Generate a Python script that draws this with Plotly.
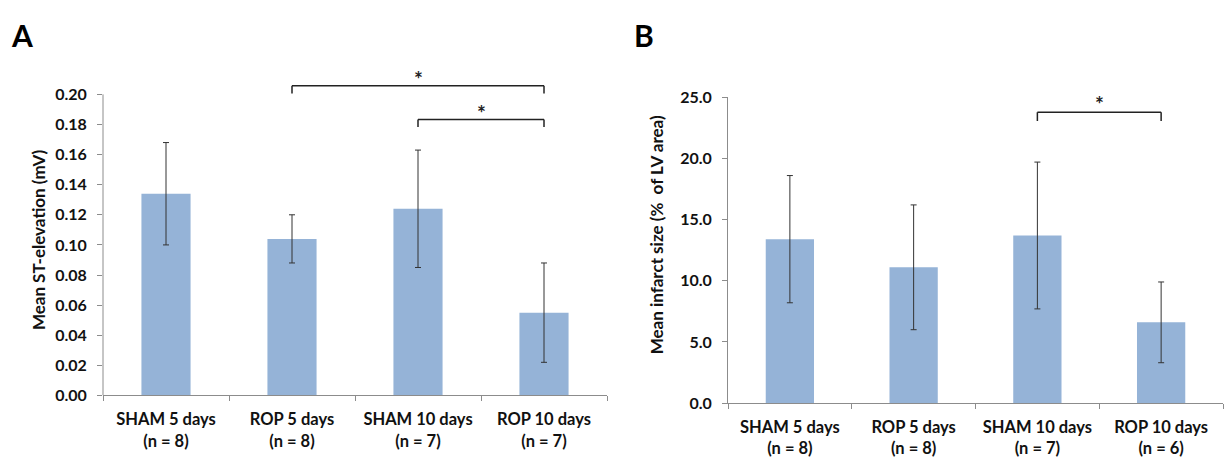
import plotly.graph_objects as go

# ---------------- data ----------------
cats_A = ["SHAM 5 days<br>(n = 8)", "ROP 5 days<br>(n = 8)",
          "SHAM 10 days<br>(n = 7)", "ROP 10 days<br>(n = 7)"]
st_mean = [0.134, 0.104, 0.124, 0.055]
st_err = [0.034, 0.016, 0.039, 0.033]
ticks_A = [0.00, 0.02, 0.04, 0.06, 0.08, 0.10, 0.12, 0.14, 0.16, 0.18, 0.20]

cats_B = ["SHAM 5 days<br>(n = 8)", "ROP 5 days<br>(n = 8)",
          "SHAM 10 days<br>(n = 7)", "ROP 10 days<br>(n = 6)"]
inf_mean = [13.4, 11.1, 13.7, 6.6]
inf_err = [5.2, 5.1, 6.0, 3.3]
ticks_B = [0.0, 5.0, 10.0, 15.0, 20.0, 25.0]

# significance brackets: (from category index, to category index)
sig_A = [(1, 3), (2, 3)]
sig_B = [(2, 3)]

BAR = "#95B3D7"
AX = "#8C8C8C"
FONT = "Lato"
TXT = "#111111"

fig = go.Figure()
fig.add_trace(go.Bar(x=cats_A, y=st_mean, marker_color=BAR, marker_line_width=0,
                     error_y=dict(type="data", array=st_err, color="#333333",
                                  thickness=1, width=3),
                     xaxis="x", yaxis="y", showlegend=False))
fig.add_trace(go.Bar(x=cats_B, y=inf_mean, marker_color=BAR, marker_line_width=0,
                     error_y=dict(type="data", array=inf_err, color="#333333",
                                  thickness=1, width=3),
                     xaxis="x2", yaxis="y2", showlegend=False))

tickfont = dict(family=FONT, size=16, color=TXT, weight="bold")
xfont = dict(family=FONT, size=16.5, color=TXT, weight="bold")

common_x = dict(showline=True, linecolor=AX, linewidth=1, ticks="outside",
                tickson="boundaries", ticklen=5, tickcolor=AX, tickfont=xfont,
                showgrid=False, range=[-0.5, 3.5], ticklabelstandoff=9)
common_y = dict(ticks="outside", ticklen=5, tickcolor=AX, tickfont=tickfont,
                showgrid=False, zeroline=False, ticklabelstandoff=7)

fig.update_layout(
    width=1226, height=461,
    margin=dict(l=0, r=0, t=0, b=0),
    paper_bgcolor="white", plot_bgcolor="white",
    bargap=0.61,
    font=dict(family=FONT),
    xaxis=dict(domain=[103/1226, 607/1226], anchor="y", **common_x),
    yaxis=dict(domain=[1 - 402/461, 1 - 62.9/461], anchor="x", range=[0, 0.216],
               showline=False, tickvals=ticks_A,
               ticktext=[f"{v:.2f}" for v in ticks_A], **common_y),
    xaxis2=dict(domain=[728/1226, 1223/1226], anchor="y2", **common_x),
    yaxis2=dict(domain=[1 - 410/461, 1 - 91/461], anchor="x2", range=[0, 25],
                showline=True, linecolor=AX, linewidth=1,
                tickvals=ticks_B, ticktext=[f"{v:.1f}" for v in ticks_B], **common_y),
)

# y-axis line of panel A only up to the last tick
fig.add_shape(type="line", xref="x domain", yref="y", x0=0, x1=0,
              y0=ticks_A[0], y1=ticks_A[-1], line=dict(color=AX, width=1))

# brackets
def bracket(xr, yr, i0, i1, ylow, yhigh, star_y):
    line = dict(color="#222222", width=1.5)
    fig.add_shape(type="line", xref=xr, yref=yr, x0=i0, x1=i1, y0=yhigh, y1=yhigh, line=line)
    fig.add_shape(type="line", xref=xr, yref=yr, x0=i0, x1=i0, y0=ylow, y1=yhigh, line=line)
    fig.add_shape(type="line", xref=xr, yref=yr, x0=i1, x1=i1, y0=ylow, y1=yhigh, line=line)
    fig.add_annotation(xref=xr, yref=yr, x=(i0 + i1) / 2, y=star_y, text="<b>*</b>",
                       showarrow=False, xanchor="center", yanchor="middle",
                       font=dict(family=FONT, size=21, color="#222222"))

bracket("x", "y", sig_A[0][0], sig_A[0][1], 0.2006, 0.2057, 0.2105)
bracket("x", "y", sig_A[1][0], sig_A[1][1], 0.1783, 0.1834, 0.1882)
bracket("x2", "y2", sig_B[0][0], sig_B[0][1], 23.05, 23.77, 24.5)

# axis titles
title_font = dict(family=FONT, size=17, color=TXT)
fig.add_annotation(xref="paper", yref="paper", x=38/1226, y=1 - 240/461,
                   xanchor="center", yanchor="middle",
                   text="<b>Mean ST-elevation (mV)</b>", textangle=-90, showarrow=False,
                   font=title_font)
fig.add_annotation(xref="paper", yref="paper", x=656/1226, y=1 - 235/461,
                   xanchor="center", yanchor="middle",
                   text="<b>Mean infarct size (%  of LV area)</b>", textangle=-90,
                   showarrow=False, font=title_font)

# panel letters
letter_font = dict(family=FONT, size=30, color="black")
fig.add_annotation(xref="paper", yref="paper", x=22/1226, y=1 - 26/461, text="<b>A</b>",
                   xanchor="center", yanchor="middle", showarrow=False, font=letter_font)
fig.add_annotation(xref="paper", yref="paper", x=644/1226, y=1 - 26/461, text="<b>B</b>",
                   xanchor="center", yanchor="middle", showarrow=False, font=letter_font)

fig.write_html("out.html")
